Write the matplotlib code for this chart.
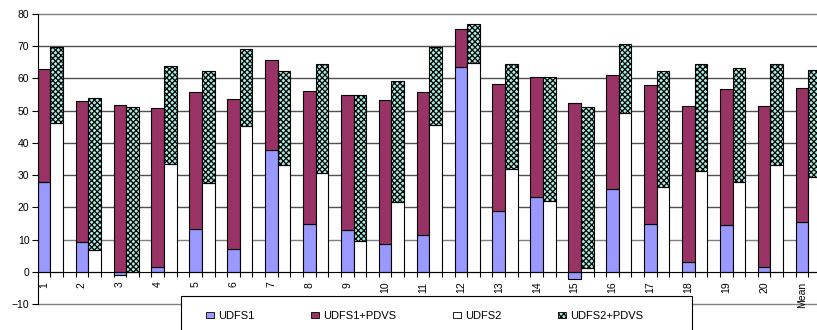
import numpy as np
import matplotlib
matplotlib.use('Agg')
import matplotlib.pyplot as plt
from matplotlib.patches import Patch, Rectangle

plt.rcParams['font.family'] = ['Liberation Sans', 'DejaVu Sans']
plt.rcParams['hatch.linewidth'] = 0.9

# Data
categories = [str(i) for i in range(1, 21)] + ['Mean']
udfs1 = [28.0, 9.4, -0.8, 1.4, 13.2, 7.1, 37.9, 14.9, 13.0, 8.6, 11.4,
         63.5, 18.8, 23.2, -2.3, 25.8, 14.9, 3.2, 14.6, 1.4, 15.4]
udfs1_pdvs = [63.0, 53.0, 51.6, 50.7, 55.7, 53.6, 65.7, 56.1, 54.9, 53.3, 55.7,
              75.4, 58.2, 60.3, 52.4, 61.0, 57.8, 51.3, 56.7, 51.3, 56.9]
udfs2 = [46.3, 6.8, 0.0, 33.4, 27.6, 45.2, 33.1, 30.7, 9.6, 21.6, 45.4,
         64.6, 32.0, 21.9, 1.3, 49.3, 26.4, 31.2, 28.0, 33.2, 29.3]
udfs2_pdvs = [69.7, 53.8, 51.0, 63.7, 62.3, 69.2, 62.3, 64.3, 54.9, 59.3, 69.6,
              76.7, 64.5, 60.3, 51.2, 70.6, 62.4, 64.3, 63.1, 64.5, 62.7]

c_udfs1 = '#9999ff'
c_pdvs1 = '#993366'
c_udfs2 = '#ffffff'
c_pdvs2 = '#a8f0e4'

fig = plt.figure(figsize=(8.17, 3.30), dpi=100)
ax = fig.add_axes([37.7 / 817, 1 - 304.3 / 330, 21 * 37.9 / 817, (304.3 - 13.7) / 330])

x = np.arange(len(categories))
w = 1 / 3
u1 = np.array(udfs1)
u2 = np.array(udfs2)
base1 = np.maximum(u1, 0)
base2 = np.maximum(u2, 0)

kw = dict(align='edge', edgecolor='black', linewidth=0.8, zorder=2)
ax.bar(x, u1, w, color=c_udfs1, **kw)
ax.bar(x, np.array(udfs1_pdvs) - base1, w, bottom=base1, color=c_pdvs1, **kw)
ax.bar(x + w, u2, w, color=c_udfs2, **kw)
ax.bar(x + w, np.array(udfs2_pdvs) - base2, w, bottom=base2, color=c_pdvs2,
       hatch='xxxxxx', **kw)

# horizontal grid
for v in range(-10, 90, 10):
    if v != 0:
        gc = '#808080' if v in (-10, 10, 80) else '#505050'
        ax.axhline(v, color=gc, linewidth=1, zorder=0, clip_on=False)

ax.set_xlim(0, len(categories))
ax.set_ylim(-10, 80)
ax.set_yticks(range(-10, 90, 10))
ax.tick_params(axis='y', labelsize=7.5, length=4, width=0.8, pad=2)

ax.spines['top'].set_visible(False)
ax.spines['right'].set_visible(False)
ax.spines['bottom'].set_position(('data', 0))
ax.spines['bottom'].set_zorder(3)
ax.spines['left'].set_linewidth(0.8)
ax.spines['bottom'].set_linewidth(0.8)

ax.set_xticks(x + w / 2)
ax.set_xticklabels(categories, rotation=90, fontsize=7.5)
ax.set_xticks(np.arange(0, len(categories) + 0.01, w), minor=True)
ax.tick_params(axis='x', which='major', length=0, pad=7)
ax.tick_params(axis='x', which='minor', length=3.3, width=0.8, direction='out')

# legend box
fig.patches.append(Rectangle((181 / 817, -0.05), 510.7 / 817, 1 - 296 / 330 + 0.05,
                             transform=fig.transFigure, facecolor='white',
                             edgecolor='black', linewidth=0.8, zorder=4))
handles = [Patch(facecolor=c_udfs1, edgecolor='black', linewidth=0.6),
           Patch(facecolor=c_pdvs1, edgecolor='black', linewidth=0.6),
           Patch(facecolor=c_udfs2, edgecolor='black', linewidth=0.6),
           Patch(facecolor=c_pdvs2, edgecolor='black', linewidth=0.6, hatch='xxxxxx')]
labels = ['UDFS1', 'UDFS1+PDVS', 'UDFS2', 'UDFS2+PDVS']
yc = 1 - 316 / 330
fig.legend(handles, labels, ncol=4, mode='expand', frameon=False,
           loc='center', bbox_to_anchor=(206 / 817, yc - 0.02, 437 / 817, 0.04),
           bbox_transform=fig.transFigure, fontsize=8, borderpad=0,
           borderaxespad=0, handlelength=0.7, handleheight=0.55,
           handletextpad=0.35)

fig.savefig('out.png', dpi=100)
